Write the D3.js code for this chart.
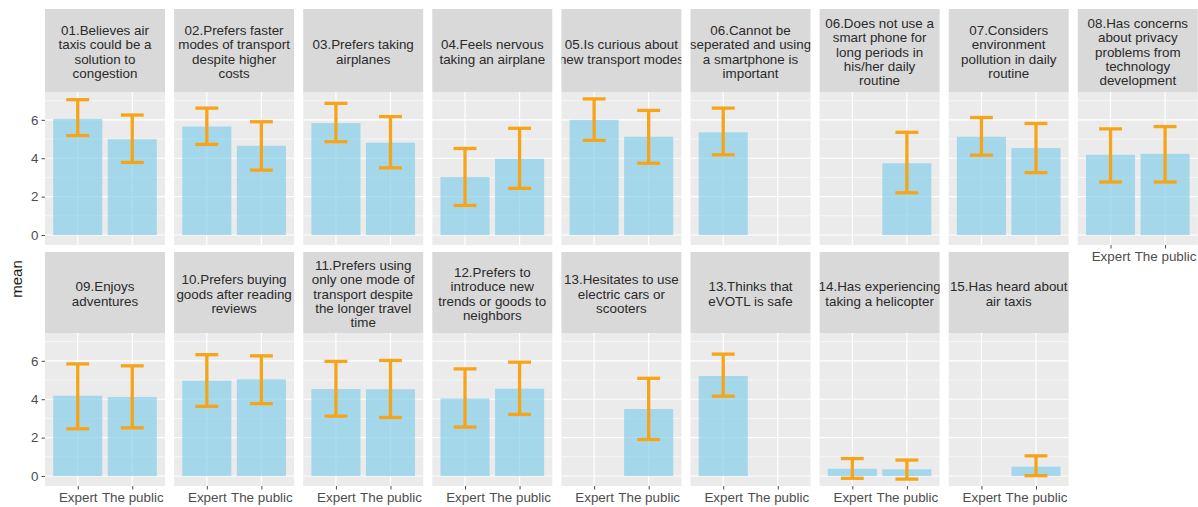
<!DOCTYPE html>
<html>
<head>
<meta charset="utf-8">
<script src="https://cdn.jsdelivr.net/npm/d3@7/dist/d3.min.js"></script>
<style>
  html, body { margin: 0; padding: 0; background: #ffffff; }
  svg { display: block; font-family: "Liberation Sans", Arial, sans-serif; }
</style>
</head>
<body>
<svg id="chart" width="1198" height="507"></svg>
<script>
// Survey item facets (strip labels, line breaks as drawn)
const facets = [
  "01.Believes air\ntaxis could be a\nsolution to\ncongestion",
  "02.Prefers faster\nmodes of transport\ndespite higher\ncosts",
  "03.Prefers taking\nairplanes",
  "04.Feels nervous\ntaking an airplane",
  "05.Is curious about\nnew transport modes",
  "06.Cannot be\nseperated and using\na smartphone is\nimportant",
  "06.Does not use a\nsmart phone for\nlong periods in\nhis/her daily\nroutine",
  "07.Considers\nenvironment\npollution in daily\nroutine",
  "08.Has concerns\nabout privacy\nproblems from\ntechnology\ndevelopment",
  "09.Enjoys\nadventures",
  "10.Prefers buying\ngoods after reading\nreviews",
  "11.Prefers using\nonly one mode of\ntransport despite\nthe longer travel\ntime",
  "12.Prefers to\nintroduce new\ntrends or goods to\nneighbors",
  "13.Hesitates to use\nelectric cars or\nscooters",
  "13.Thinks that\neVOTL is safe",
  "14.Has experiencing\ntaking a helicopter",
  "15.Has heard about\nair taxis"
];

const groups = ["Expert", "The public"];

// Mean and error-bar bounds per facet (null = group not asked)
const expertMean  = [6.05, 5.65, 5.83, 3.02, 6.00, 5.35, null, 5.12, 4.18, 4.18, 4.97, 4.53, 4.04, null, 5.21, 0.38, null];
const expertLower = [5.18, 4.72, 4.86, 1.54, 4.93, 4.18, null, 4.16, 2.76, 2.46, 3.63, 3.12, 2.55, null, 4.16, -0.12, null];
const expertUpper = [7.05, 6.61, 6.86, 4.51, 7.09, 6.61, null, 6.12, 5.53, 5.84, 6.32, 5.97, 5.58, null, 6.35, 0.91, null];

const publicMean  = [4.99, 4.65, 4.81, 3.97, 5.12, null, 3.74, 4.53, 4.23, 4.12, 5.04, 4.52, 4.55, 3.49, null, 0.35, 0.49];
const publicLower = [3.78, 3.38, 3.50, 2.43, 3.74, null, 2.20, 3.25, 2.76, 2.51, 3.77, 3.05, 3.21, 1.90, null, -0.16, 0.02];
const publicUpper = [6.25, 5.90, 6.17, 5.56, 6.49, null, 5.35, 5.81, 5.65, 5.74, 6.26, 6.02, 5.93, 5.09, null, 0.83, 1.05];

const yTicks = [0, 2, 4, 6];
const yMinorTicks = [1, 3, 5, 7];

const svg = d3.select("#chart");

const ncol = 9;
const panelW = 120;
const colStep = 129.1;
const left0 = 45;
const rows = [
  { stripTop: 9,   stripBottom: 92,  panelBottom: 245 },
  { stripTop: 252, stripBottom: 333, panelBottom: 486 }
];

const bg = "#EBEBEB", stripFill = "#D9D9D9";
const barColor = "#87CEEB", barAlpha = 0.7;
const errColor = "#F6A51A";
const fontSize = 13.4;

// Shared y scale domain (fixed facet scales)
const yDomain = [-0.52, 7.45];

const rowsData = facets.map((label, i) => ({
  label,
  idx: i,
  values: [
    { group: groups[0], mean: expertMean[i], lo: expertLower[i], hi: expertUpper[i] },
    { group: groups[1], mean: publicMean[i], lo: publicLower[i], hi: publicUpper[i] }
  ]
}));

rowsData.forEach(d => {
  const r = Math.floor(d.idx / ncol);
  const c = d.idx % ncol;
  const R = rows[r];
  const x0 = left0 + c * colStep;
  const pTop = R.stripBottom, pBot = R.panelBottom;

  const x = d3.scalePoint().domain(groups).range([x0, x0 + panelW]).padding(0.6);
  const step = x.step();
  const y = d3.scaleLinear().domain(yDomain).range([pBot, pTop]);

  const g = svg.append("g");

  // strip
  g.append("rect").attr("x", x0).attr("y", R.stripTop)
    .attr("width", panelW).attr("height", R.stripBottom - R.stripTop)
    .attr("fill", stripFill);

  const clipId = "clip-strip-" + d.idx;
  svg.append("clipPath").attr("id", clipId).append("rect")
    .attr("x", x0).attr("y", R.stripTop)
    .attr("width", panelW).attr("height", R.stripBottom - R.stripTop);

  const lines = d.label.split("\n");
  const lh = 14.4;
  const cy = (R.stripTop + R.stripBottom) / 2 + 1.5;
  const firstY = cy - (lines.length - 1) * lh / 2;
  const st = g.append("text")
    .attr("clip-path", `url(#${clipId})`)
    .attr("text-anchor", "middle")
    .attr("font-size", fontSize)
    .attr("fill", "#2a2a2a");
  lines.forEach((ln, k) => {
    st.append("tspan").attr("x", x0 + panelW / 2).attr("y", firstY + k * lh)
      .attr("dy", "0.35em").text(ln);
  });

  // panel background
  g.append("rect").attr("x", x0).attr("y", pTop)
    .attr("width", panelW).attr("height", pBot - pTop).attr("fill", bg);

  // grid
  g.selectAll(".ymin").data(yMinorTicks).join("line")
    .attr("x1", x0).attr("x2", x0 + panelW)
    .attr("y1", v => y(v)).attr("y2", v => y(v))
    .attr("stroke", "#fff").attr("stroke-width", 0.6);
  g.selectAll(".ymaj").data(yTicks).join("line")
    .attr("x1", x0).attr("x2", x0 + panelW)
    .attr("y1", v => y(v)).attr("y2", v => y(v))
    .attr("stroke", "#fff").attr("stroke-width", 1.2);
  g.selectAll(".xmaj").data(groups).join("line")
    .attr("x1", v => x(v)).attr("x2", v => x(v))
    .attr("y1", pTop).attr("y2", pBot)
    .attr("stroke", "#fff").attr("stroke-width", 1.2);

  const vals = d.values.filter(v => v.mean !== null);

  // bars
  const bw = step * 0.9;
  g.selectAll(".bar").data(vals).join("rect")
    .attr("x", v => x(v.group) - bw / 2)
    .attr("width", bw)
    .attr("y", v => y(Math.max(v.mean, 0)))
    .attr("height", v => Math.abs(y(0) - y(v.mean)))
    .attr("fill", barColor).attr("fill-opacity", barAlpha);

  // error bars
  const cw = step * 0.42;
  const eb = g.selectAll(".err").data(vals).join("g")
    .attr("stroke", errColor).attr("stroke-width", 3.3).attr("fill", "none");
  eb.append("line")
    .attr("x1", v => x(v.group)).attr("x2", v => x(v.group))
    .attr("y1", v => y(v.lo)).attr("y2", v => y(v.hi));
  eb.append("line")
    .attr("x1", v => x(v.group) - cw / 2).attr("x2", v => x(v.group) + cw / 2)
    .attr("y1", v => y(v.hi)).attr("y2", v => y(v.hi));
  eb.append("line")
    .attr("x1", v => x(v.group) - cw / 2).attr("x2", v => x(v.group) + cw / 2)
    .attr("y1", v => y(v.lo)).attr("y2", v => y(v.lo));

  // y axis on first column
  if (c === 0) {
    const ya = g.append("g").attr("transform", `translate(${x0},0)`)
      .call(d3.axisLeft(y).tickValues(yTicks).tickSize(3.5).tickPadding(3));
    ya.select(".domain").remove();
    ya.selectAll("line").attr("stroke", "#4d4d4d");
    ya.selectAll("text").attr("fill", "#4d4d4d").attr("font-size", fontSize)
      .attr("font-family", "Liberation Sans, Arial, sans-serif");
  }

  // x axis where no panel sits below
  const hasBelow = r === 0 && (d.idx + ncol) < facets.length;
  if (!hasBelow) {
    const xa = g.append("g").attr("transform", `translate(0,${pBot})`)
      .call(d3.axisBottom(x).tickSize(3.5).tickPadding(2.5));
    xa.select(".domain").remove();
    xa.selectAll("line").attr("stroke", "#4d4d4d");
    xa.selectAll("text").attr("fill", "#4d4d4d").attr("font-size", fontSize)
      .attr("font-family", "Liberation Sans, Arial, sans-serif");
  }
});

// y-axis title
svg.append("text")
  .attr("transform", "translate(22,279) rotate(-90)")
  .attr("text-anchor", "middle")
  .attr("font-size", 15)
  .attr("fill", "#1a1a1a")
  .text("mean");
</script>
</body>
</html>
